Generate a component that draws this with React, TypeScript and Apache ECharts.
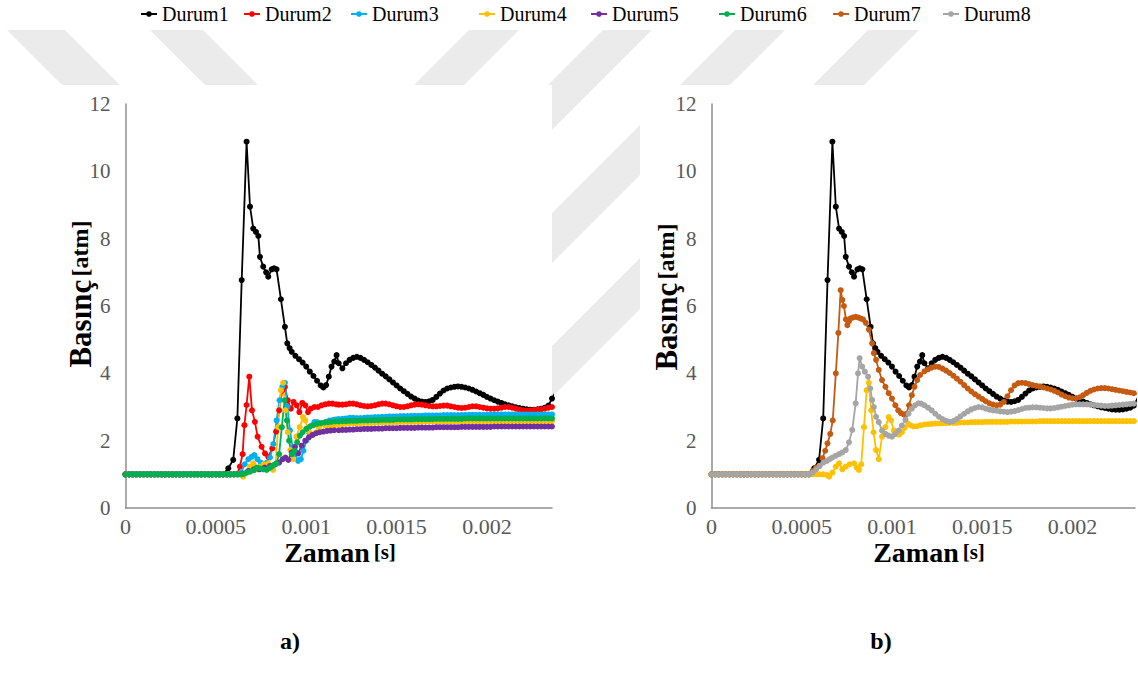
import React, { useEffect, useRef } from "react";
import * as echarts from "echarts";

// ---------- names, colours, ticks ----------
const seriesNames = ["Durum1", "Durum2", "Durum3", "Durum4", "Durum5", "Durum6", "Durum7", "Durum8"];
const seriesColors = ["#000000", "#FF0000", "#00B0F0", "#FFC000", "#7030A0", "#00B050", "#C55A11", "#A5A5A5"];
const xTickLabels = ["0", "0.0005", "0.001", "0.0015", "0.002"];
const yTicks = [0, 2, 4, 6, 8, 10, 12];
const chartASeries = ["Durum1", "Durum2", "Durum3", "Durum4", "Durum5", "Durum6"];
const chartBSeries = ["Durum1", "Durum4", "Durum7", "Durum8"];

// ---------- data (time in microseconds, pressure in atm) ----------
// all cases sit at 1 atm before the pressure wave arrives
const leadPoints: number[][] = [
  [0, 1], [20, 1], [40, 1], [60, 1], [80, 1], [100, 1], [120, 1], [140, 1], [160, 1], [180, 1],
  [200, 1], [220, 1], [240, 1], [260, 1], [280, 1], [300, 1], [320, 1], [340, 1], [360, 1], [380, 1],
  [400, 1], [420, 1], [440, 1], [460, 1], [480, 1], [500, 1], [520, 1], [540, 1],
];

const tailTimes = [
  1180, 1200, 1220, 1240, 1260, 1280, 1300, 1320, 1340, 1360,
  1380, 1400, 1420, 1440, 1460, 1480, 1500, 1520, 1540, 1560,
  1580, 1600, 1620, 1640, 1660, 1680, 1700, 1720, 1740, 1760,
  1780, 1800, 1820, 1840, 1860, 1880, 1900, 1920, 1940, 1960,
  1980, 2000, 2020, 2040, 2060, 2080, 2100, 2120, 2140, 2160,
  2180, 2200, 2220, 2240, 2260, 2280, 2300, 2320, 2340, 2360,
  2380,
];

const durum1Head: number[][] = [
  [569, 1.18], [596, 1.43], [619, 2.66], [643, 6.77], [670, 10.88], [689, 8.95], [707, 8.3], [722, 8.2],
  [735, 8.08], [744, 7.46], [762, 7.17], [778, 7.0], [790, 6.87], [809, 7.09], [822, 7.12], [836, 7.09],
  [860, 6.2], [882, 5.38], [895, 4.89], [908, 4.75], [920, 4.64], [940, 4.52], [960, 4.42], [980, 4.32],
  [1000, 4.2], [1020, 4.05], [1040, 3.92], [1060, 3.78], [1080, 3.64], [1095, 3.58], [1110, 3.65],
  [1125, 3.9], [1140, 4.2], [1155, 4.35], [1168, 4.54],
];
const durum1Tail = [
  4.3, 4.15, 4.3, 4.4, 4.46, 4.49, 4.46, 4.4, 4.33, 4.25,
  4.17, 4.08, 3.99, 3.91, 3.82, 3.73, 3.64, 3.55, 3.47, 3.39,
  3.31, 3.25, 3.19, 3.16, 3.15, 3.17, 3.21, 3.3, 3.4, 3.49,
  3.55, 3.58, 3.6, 3.61, 3.6, 3.58, 3.55, 3.51, 3.46, 3.41,
  3.36, 3.3, 3.25, 3.2, 3.16, 3.12, 3.08, 3.05, 3.02, 2.99,
  2.97, 2.95, 2.93, 2.92, 2.92, 2.93, 2.95, 2.98, 3.04, 3.25,
  3.45,
];

const durum2Head: number[][] = [
  [560, 1], [580, 1], [600, 1], [620, 1.02], [633, 1.23], [648, 1.6], [658, 2.46], [670, 3.06],
  [685, 3.9], [700, 2.9], [716, 2.56], [731, 2.12], [753, 1.82], [772, 1.62], [790, 1.52], [812, 1.77],
  [833, 2.27], [850, 2.9], [868, 3.5], [882, 3.6], [898, 3.2], [915, 2.95], [930, 3.15], [947, 3.05],
  [962, 2.85], [978, 3.12], [995, 3.05], [1010, 2.85], [1025, 2.95], [1045, 3.0], [1065, 3.0],
  [1085, 3.05], [1105, 3.08], [1125, 3.1], [1145, 3.1], [1165, 3.08],
];
const durum2Tail = [
  3.07, 3.07, 3.08, 3.1, 3.1, 3.08, 3.05, 3.03, 3.02, 3.03,
  3.05, 3.08, 3.1, 3.1, 3.08, 3.05, 3.02, 3.0, 3.0, 3.02,
  3.05, 3.07, 3.08, 3.07, 3.05, 3.03, 3.02, 3.02, 3.03, 3.04,
  3.04, 3.02, 3.0, 2.98, 2.97, 2.98, 3.0, 3.02, 3.02, 3.0,
  2.98, 2.96, 2.95, 2.95, 2.96, 2.98, 3.0, 3.0, 2.98, 2.95,
  2.92, 2.9, 2.89, 2.9, 2.91, 2.92, 2.93, 2.95, 2.98, 3.0,
  3.02,
];

const durum3Head: number[][] = [
  [560, 1], [580, 1], [600, 1], [620, 1], [640, 1.05], [660, 1.3], [680, 1.45], [698, 1.52],
  [713, 1.57], [730, 1.45], [748, 1.35], [765, 1.3], [782, 1.35], [800, 1.5], [818, 1.9], [836, 2.6],
  [852, 3.2], [868, 3.6], [882, 3.72], [896, 3.0], [910, 2.3], [925, 1.8], [940, 1.6], [955, 1.4],
  [970, 1.45], [985, 1.7], [1000, 2.0], [1015, 2.25], [1030, 2.45], [1045, 2.55], [1060, 2.55],
  [1075, 2.5], [1090, 2.52], [1110, 2.56], [1130, 2.6], [1150, 2.62], [1165, 2.63],
];
const durum3Tail = [
  2.64, 2.65, 2.66, 2.68, 2.68, 2.67, 2.67, 2.68, 2.69, 2.69,
  2.7, 2.7, 2.71, 2.71, 2.72, 2.72, 2.72, 2.73, 2.73, 2.73,
  2.74, 2.74, 2.74, 2.74, 2.75, 2.75, 2.75, 2.75, 2.75, 2.76,
  2.76, 2.76, 2.76, 2.76, 2.76, 2.77, 2.77, 2.77, 2.77, 2.77,
  2.77, 2.77, 2.78, 2.78, 2.78, 2.78, 2.78, 2.78, 2.78, 2.78,
  2.78, 2.78, 2.78, 2.78, 2.78, 2.78, 2.78, 2.78, 2.78, 2.78,
  2.78,
];

const durum4Head: number[][] = [
  [560, 1], [580, 1], [600, 1], [620, 1], [640, 0.98], [652, 0.93], [670, 1.05], [689, 1.23],
  [707, 1.33], [725, 1.15], [744, 1.23], [765, 1.3], [790, 1.33], [805, 1.2], [817, 1.13], [830, 1.3],
  [845, 2.4], [860, 3.5], [872, 3.72], [885, 2.9], [898, 2.25], [912, 1.72], [927, 1.45], [945, 2.12],
  [964, 2.4], [982, 2.7], [995, 2.6], [1010, 2.3], [1025, 2.2], [1040, 2.18], [1055, 2.25],
  [1070, 2.38], [1090, 2.5], [1105, 2.45], [1120, 2.42], [1140, 2.43], [1160, 2.46],
];
const durum4Tail = [
  2.48, 2.49, 2.5, 2.51, 2.51, 2.52, 2.52, 2.53, 2.53, 2.53,
  2.54, 2.54, 2.54, 2.55, 2.55, 2.55, 2.55, 2.56, 2.56, 2.56,
  2.56, 2.56, 2.56, 2.56, 2.57, 2.57, 2.57, 2.57, 2.57, 2.57,
  2.57, 2.57, 2.58, 2.58, 2.58, 2.58, 2.58, 2.58, 2.58, 2.58,
  2.58, 2.58, 2.58, 2.58, 2.58, 2.58, 2.58, 2.58, 2.58, 2.58,
  2.58, 2.58, 2.58, 2.58, 2.58, 2.58, 2.58, 2.58, 2.58, 2.58,
  2.58,
];

const durum5Head: number[][] = [
  [560, 1], [580, 1], [600, 1], [620, 1], [650, 1.02], [680, 1.1], [710, 1.15], [740, 1.15],
  [770, 1.2], [800, 1.25], [830, 1.3], [850, 1.35], [870, 1.45], [885, 1.5], [901, 1.43], [920, 1.65],
  [938, 1.82], [956, 1.62], [975, 1.85], [995, 2.0], [1015, 2.1], [1035, 2.17], [1055, 2.22],
  [1075, 2.25], [1095, 2.27], [1115, 2.29], [1135, 2.3], [1155, 2.31],
];
const durum5Tail = [
  2.31, 2.32, 2.32, 2.33, 2.33, 2.34, 2.34, 2.35, 2.35, 2.35,
  2.36, 2.36, 2.36, 2.37, 2.37, 2.37, 2.37, 2.38, 2.38, 2.38,
  2.38, 2.38, 2.39, 2.39, 2.39, 2.39, 2.39, 2.4, 2.4, 2.4,
  2.4, 2.4, 2.4, 2.4, 2.41, 2.41, 2.41, 2.41, 2.41, 2.41,
  2.41, 2.41, 2.41, 2.42, 2.42, 2.42, 2.42, 2.42, 2.42, 2.42,
  2.42, 2.42, 2.42, 2.42, 2.42, 2.42, 2.42, 2.42, 2.42, 2.42,
  2.42,
];

const durum6Head: number[][] = [
  [560, 1], [580, 1], [600, 1], [620, 1], [640, 1], [655, 1.02], [670, 1.05], [689, 1.08],
  [710, 1.12], [727, 1.2], [744, 1.18], [762, 1.15], [781, 1.13], [795, 1.18], [809, 1.23],
  [822, 1.28], [836, 1.33], [850, 1.6], [865, 2.4], [880, 3.2], [893, 2.6], [905, 2.0], [920, 1.6],
  [935, 1.7], [950, 1.95], [965, 2.15], [980, 2.25], [1000, 2.35], [1020, 2.42], [1040, 2.46],
  [1060, 2.5], [1080, 2.52], [1100, 2.54], [1120, 2.55], [1140, 2.56], [1160, 2.57],
];
const durum6Tail = [
  2.57, 2.58, 2.58, 2.59, 2.59, 2.59, 2.6, 2.6, 2.6, 2.61,
  2.61, 2.61, 2.62, 2.62, 2.62, 2.62, 2.63, 2.63, 2.63, 2.63,
  2.63, 2.64, 2.64, 2.64, 2.64, 2.64, 2.64, 2.65, 2.65, 2.65,
  2.65, 2.65, 2.65, 2.65, 2.65, 2.66, 2.66, 2.66, 2.66, 2.66,
  2.66, 2.66, 2.66, 2.66, 2.66, 2.66, 2.66, 2.66, 2.66, 2.66,
  2.66, 2.66, 2.66, 2.66, 2.66, 2.66, 2.66, 2.66, 2.66, 2.66,
  2.66,
];

const durum7Head: number[][] = [
  [560, 1.1], [580, 1.2], [597, 1.25], [615, 1.48], [630, 1.7], [643, 1.92], [658, 2.2], [672, 2.6],
  [689, 4.0], [703, 5.2], [716, 6.47], [725, 6.18], [734, 6.0], [745, 5.6], [753, 5.43], [762, 5.55],
  [771, 5.63], [785, 5.66], [799, 5.68], [812, 5.66], [826, 5.63], [840, 5.6], [855, 5.5], [872, 5.3],
  [890, 4.89], [900, 4.6], [912, 4.4], [927, 4.1], [945, 3.8], [964, 3.6], [982, 3.41], [1000, 3.25],
  [1019, 3.05], [1035, 2.9], [1050, 2.82], [1065, 2.78], [1080, 2.8], [1095, 3.05], [1110, 3.35],
  [1125, 3.6], [1140, 3.8], [1156, 3.95],
];
const durum7Tail = [
  4.06, 4.12, 4.17, 4.2, 4.19, 4.14, 4.08, 4.01, 3.93, 3.84,
  3.75, 3.65, 3.55, 3.46, 3.38, 3.31, 3.24, 3.17, 3.11, 3.07,
  3.05, 3.07, 3.15, 3.32, 3.5, 3.64, 3.71, 3.72, 3.71, 3.68,
  3.65, 3.63, 3.61, 3.58, 3.55, 3.52, 3.48, 3.43, 3.37, 3.32,
  3.28, 3.26, 3.26, 3.29, 3.35, 3.42, 3.48, 3.52, 3.55, 3.56,
  3.56, 3.55, 3.53, 3.51, 3.49, 3.47, 3.45, 3.43, 3.41, 3.39,
  3.37,
];

const durum8Head: number[][] = [
  [560, 1.05], [580, 1.15], [600, 1.25], [620, 1.35], [640, 1.4], [655, 1.45], [670, 1.5], [688, 1.55],
  [707, 1.6], [725, 1.65], [744, 1.72], [762, 1.95], [780, 2.32], [799, 3.11], [812, 4.0], [821, 4.45],
  [835, 4.2], [850, 4.05], [868, 3.9], [880, 3.55], [890, 3.21], [900, 3.0], [912, 2.71], [927, 2.55],
  [945, 2.3], [964, 2.2], [982, 2.15], [1000, 2.12], [1018, 2.2], [1037, 2.3], [1055, 2.45],
  [1075, 2.62], [1092, 2.8], [1110, 2.95], [1128, 3.05], [1147, 3.11], [1162, 3.1],
];
const durum8Tail = [
  3.05, 2.98, 2.9, 2.8, 2.71, 2.64, 2.59, 2.56, 2.58, 2.64,
  2.72, 2.8, 2.87, 2.93, 2.97, 3.0, 2.99, 2.95, 2.92, 2.9,
  2.89, 2.87, 2.86, 2.85, 2.86, 2.88, 2.91, 2.94, 2.97, 2.98,
  2.99, 2.99, 2.98, 2.97, 2.96, 2.96, 2.97, 2.99, 3.01, 3.03,
  3.05, 3.07, 3.08, 3.08, 3.08, 3.08, 3.07, 3.06, 3.05, 3.04,
  3.03, 3.03, 3.04, 3.05, 3.06, 3.07, 3.08, 3.09, 3.1, 3.1,
  3.1,
];

const heads: Record<string, number[][]> = {
  Durum1: durum1Head, Durum2: durum2Head, Durum3: durum3Head, Durum4: durum4Head,
  Durum5: durum5Head, Durum6: durum6Head, Durum7: durum7Head, Durum8: durum8Head,
};
const tails: Record<string, number[]> = {
  Durum1: durum1Tail, Durum2: durum2Tail, Durum3: durum3Tail, Durum4: durum4Tail,
  Durum5: durum5Tail, Durum6: durum6Tail, Durum7: durum7Tail, Durum8: durum8Tail,
};

function buildData(name: string): number[][] {
  const pts = [...leadPoints, ...heads[name], ...tailTimes.map((t, i) => [t, tails[name][i]])];
  return pts.map(([t, p]) => [t / 1e6, p]);
}

// ---------- layout ----------
const W = 1138;
const H = 683;
const SERIF = "Liberation Serif";
const legendLefts = [140, 243, 350, 478, 590, 718, 832, 942];
const gridA = { left: 125.5, top: 104, width: 426.5, height: 404 };
const gridB = { left: 711.5, top: 104, width: 426.5, height: 404 };
const xMaxA = 0.00236;
const xMaxB = 0.002347;
const stripeColor = "#ebebeb";

function xLabel(v: number): string {
  const k = Math.round(v / 0.0005);
  if (Math.abs(v - k * 0.0005) > 1e-9) return "";
  return xTickLabels[k] ?? "";
}

function makeXAxis(gridIndex: number, max: number) {
  return {
    type: "value",
    gridIndex,
    min: 0,
    max,
    interval: 0.0005,
    axisLine: { show: true, lineStyle: { color: "#8f8f8f", width: 1.5 } },
    axisTick: { show: false },
    splitLine: { show: false },
    axisLabel: {
      formatter: xLabel,
      color: "#595959",
      fontFamily: SERIF,
      fontSize: 22,
      margin: 7,
      hideOverlap: false,
    },
  };
}

function makeYAxis(gridIndex: number) {
  return {
    type: "value",
    gridIndex,
    min: yTicks[0],
    max: yTicks[yTicks.length - 1],
    interval: 2,
    axisLine: { show: true, lineStyle: { color: "#8f8f8f", width: 1.5 } },
    axisTick: { show: false },
    splitLine: { show: false },
    axisLabel: { color: "#595959", fontFamily: SERIF, fontSize: 21, margin: 15 },
  };
}

function makeSeries(name: string, axisIndex: number) {
  const color = seriesColors[seriesNames.indexOf(name)];
  return {
    name,
    type: "line",
    xAxisIndex: axisIndex,
    yAxisIndex: axisIndex,
    data: buildData(name),
    symbol: "circle",
    symbolSize: 6,
    showSymbol: true,
    clip: true,
    silent: true,
    lineStyle: { color, width: 1.8 },
    itemStyle: { color },
    emphasis: { disabled: true },
  };
}

// diagonal watermark stripes (decorative)
const slashStripeTops = [[469, 519], [603, 652], [735, 785], [868, 919]];
const backslashStripeTops = [[7, 65], [150, 203]];

function buildGraphic() {
  const els: any[] = [];
  const top = 30;
  const bottom = 683;
  slashStripeTops.forEach(([x1, x2]) => {
    const d = bottom - top;
    els.push({
      type: "polygon",
      z: -10,
      silent: true,
      shape: { points: [[x1, top], [x2, top], [x2 - d, bottom], [x1 - d, bottom]] },
      style: { fill: stripeColor },
    });
  });
  backslashStripeTops.forEach(([x1, x2]) => {
    const d = 85 - top;
    els.push({
      type: "polygon",
      z: -10,
      silent: true,
      shape: { points: [[x1, top], [x2, top], [x2 + d, 85], [x1 + d, 85]] },
      style: { fill: stripeColor },
    });
  });
  // white panels behind the two charts
  els.push({ type: "rect", z: -9, silent: true, shape: { x: 0, y: 85, width: 552, height: H - 85 }, style: { fill: "#fff" } });
  els.push({ type: "rect", z: -9, silent: true, shape: { x: 640, y: 85, width: W - 640, height: H - 85 }, style: { fill: "#fff" } });

  const yTitle = (x: number, y: number) => ({
    type: "text",
    x,
    y,
    rotation: Math.PI / 2,
    silent: true,
    style: {
      text: "{a|Basınç} {b|[atm]}",
      align: "center",
      verticalAlign: "middle",
      fill: "#000",
      rich: {
        a: { fontSize: 31, fontWeight: "bold", fontFamily: SERIF, fill: "#000" },
        b: { fontSize: 24, fontWeight: "bold", fontFamily: SERIF, fill: "#000" },
      },
    },
  });
  const xTitle = (x: number, y: number) => ({
    type: "text",
    x,
    y,
    silent: true,
    style: {
      text: "{a|Zaman}{b|[s]}",
      align: "center",
      verticalAlign: "middle",
      fill: "#000",
      rich: {
        a: { fontSize: 28, fontWeight: "bold", fontFamily: SERIF, fill: "#000" },
        b: { fontSize: 21, fontWeight: "bold", fontFamily: SERIF, fill: "#000", padding: [0, 0, 0, 4] },
      },
    },
  });
  els.push(yTitle(80, 294));
  els.push(yTitle(666, 297));
  els.push(xTitle(340, 552));
  els.push(xTitle(929, 552));
  els.push({
    type: "text", x: 290, y: 641, silent: true,
    style: {
      text: "a)", align: "center", verticalAlign: "middle", fill: "#000",
      fontSize: 24, fontWeight: "bold", fontFamily: SERIF,
    },
  });
  els.push({
    type: "text", x: 881, y: 641, silent: true,
    style: {
      text: "b)", align: "center", verticalAlign: "middle", fill: "#000",
      fontSize: 24, fontWeight: "bold", fontFamily: SERIF,
    },
  });
  return els;
}

export default function App() {
  const ref = useRef<HTMLDivElement>(null);
  useEffect(() => {
    if (!ref.current) return;
    const chart = echarts.init(ref.current, undefined, { renderer: "svg" });
    const option: any = {
      animation: false,
      backgroundColor: "#ffffff",
      textStyle: { fontFamily: SERIF },
      legend: seriesNames.map((name, i) => ({
        data: [name],
        left: legendLefts[i],
        top: 4,
        padding: 0,
        itemWidth: 16,
        itemHeight: 7,
        itemGap: 4,
        selectedMode: false,
        textStyle: { fontFamily: SERIF, fontSize: 20, color: "#000" },
      })),
      grid: [
        { ...gridA, containLabel: false },
        { ...gridB, containLabel: false },
      ],
      xAxis: [makeXAxis(0, xMaxA), makeXAxis(1, xMaxB)],
      yAxis: [makeYAxis(0), makeYAxis(1)],
      series: [
        ...chartASeries.map((n) => makeSeries(n, 0)),
        ...chartBSeries.map((n) => makeSeries(n, 1)),
      ],
      graphic: { elements: buildGraphic() },
    };
    chart.setOption(option);
    return () => chart.dispose();
  }, []);
  return (
    <div
      ref={ref}
      style={{ position: "fixed", left: 0, top: 0, width: W, height: H, background: "#fff" }}
    />
  );
}
